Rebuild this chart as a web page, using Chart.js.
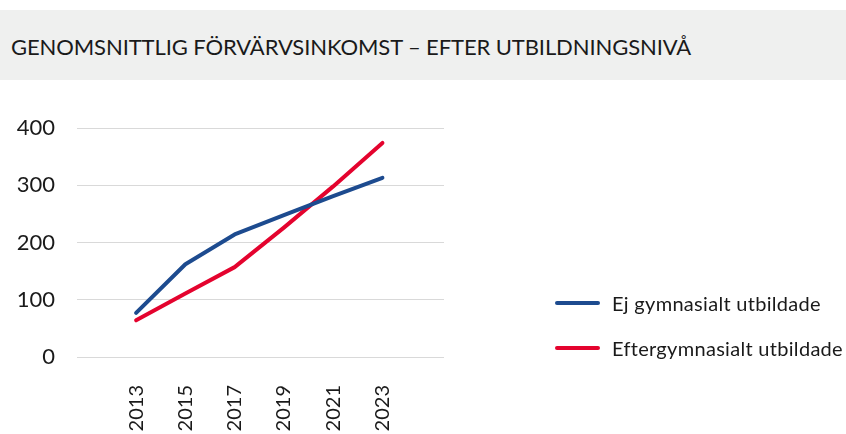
<!DOCTYPE html>
<html>
<head>
<meta charset="utf-8">
<script src="https://cdn.jsdelivr.net/npm/chart.js@4"></script>
<style>
  body { margin: 0; background: #fff; font-family: "Lato", "Liberation Sans", sans-serif; color: #1a1a1a; }
  .wrap { position: relative; width: 846px; height: 434px; overflow: hidden; }
  .title {
    position: absolute; left: 0; top: 10px; width: 846px; height: 70px;
    background: #eff0ef;
  }
  .title span {
    position: absolute; left: 11px; top: 23px;
    font-size: 22px; letter-spacing: -0.1px; white-space: nowrap;
  }
  .plot { position: absolute; left: 0; top: 80px; width: 846px; height: 354px; }
  #legend { position: absolute; left: 555px; top: 280px; }
  #legend div { display: flex; align-items: center; height: 45px; font-size: 20px; letter-spacing: 0.3px; white-space: nowrap; }
  #legend i { display: inline-block; width: 45px; height: 4px; border-radius: 2px; margin-right: 12px; }
</style>
</head>
<body>
<div class="wrap">
  <div class="title"><span>GENOMSNITTLIG FÖRVÄRVSINKOMST – EFTER UTBILDNINGSNIVÅ</span></div>
  <div class="plot"><canvas id="chart"></canvas></div>
  <div id="legend"></div>
</div>
<script>
const years = [2013, 2015, 2017, 2019, 2021, 2023];
const ejGymnasialt = [77, 162, 214, 248, 281, 313];
const eftergymnasialt = [64, 111, 157, 226, 298, 374];
const seriesNames = ["Ej gymnasialt utbildade", "Eftergymnasialt utbildade"];
const yTicks = [0, 100, 200, 300, 400];

const font = "Lato, 'Liberation Sans', sans-serif";

const ctx = document.getElementById('chart').getContext('2d');
const chart = new Chart(ctx, {
  type: 'line',
  data: {
    datasets: [{
      label: seriesNames[0],
      data: years.map((y, i) => ({ x: y, y: ejGymnasialt[i] })),
      borderColor: "#1d4b8f",
      borderWidth: 4,
      pointRadius: 0,
      borderCapStyle: 'round',
      borderJoinStyle: 'round'
    }, {
      label: seriesNames[1],
      data: years.map((y, i) => ({ x: y, y: eftergymnasialt[i] })),
      borderColor: "#e4032e",
      borderWidth: 4,
      pointRadius: 0,
      borderCapStyle: 'round',
      borderJoinStyle: 'round'
    }]
  },
  options: {
    responsive: true,
    maintainAspectRatio: false,
    animation: false,
    layout: { padding: { top: 48, right: 402, left: 0, bottom: 0 } },
    plugins: { legend: { display: false }, tooltip: { enabled: false } },
    scales: {
      x: {
        type: 'linear',
        min: 2010.6,
        max: 2025.5,
        afterBuildTicks: function(scale) {
          scale.ticks = years.map(v => ({ value: v }));
        },
        afterFit: function(scale) { scale.height = 77; },
        grid: { display: false, drawTicks: false },
        border: { display: false },
        ticks: {
          minRotation: 90,
          maxRotation: 90,
          padding: 28,
          color: '#1a1a1a',
          font: { family: font, size: 20 },
          callback: v => String(v)
        }
      },
      y: {
        min: 0,
        max: 400,
        afterBuildTicks: function(scale) {
          scale.ticks = yTicks.map(v => ({ value: v }));
        },
        afterFit: function(scale) { scale.width = 77; },
        grid: { color: '#d9d9d9', lineWidth: 1, drawTicks: false },
        border: { display: false },
        ticks: {
          padding: 22,
          color: '#1a1a1a',
          font: { family: font, size: 22 }
        }
      }
    }
  }
});

const legendEl = document.getElementById('legend');
chart.data.datasets.forEach(ds => {
  const row = document.createElement('div');
  const sw = document.createElement('i');
  sw.style.background = ds.borderColor;
  row.appendChild(sw);
  row.appendChild(document.createTextNode(ds.label));
  legendEl.appendChild(row);
});
</script>
</body>
</html>
